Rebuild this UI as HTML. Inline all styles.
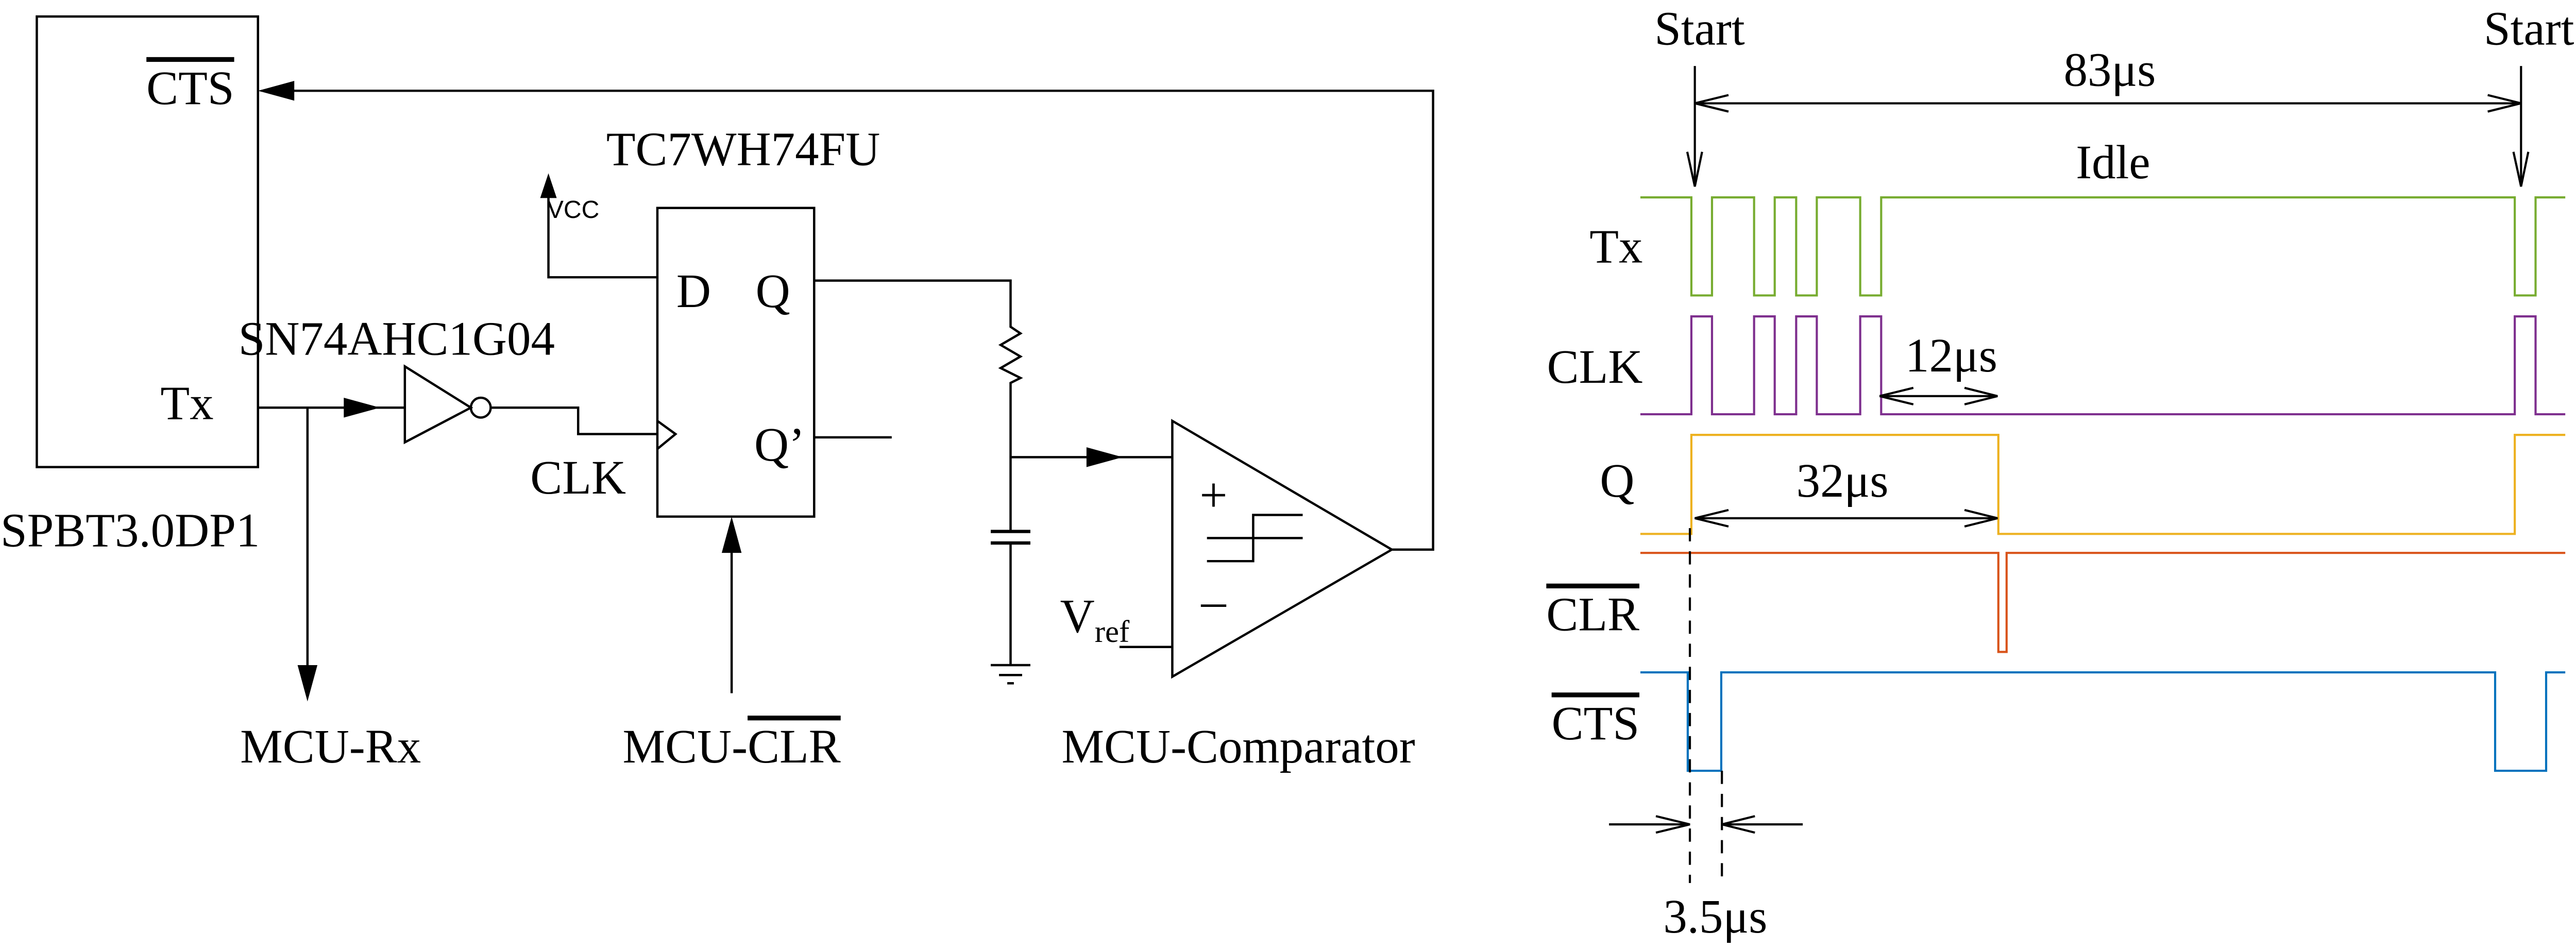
<!DOCTYPE html>
<html><head><meta charset="utf-8"><style>html,body{margin:0;padding:0;background:#fff}svg{display:block}.o{text-decoration:overline}</style></head>
<body>
<svg width="5025" height="1842" viewBox="0 0 1568 575" xmlns="http://www.w3.org/2000/svg" font-family="Liberation Serif, serif" font-size="29">
<rect width="1568" height="575" fill="#fff"/>
<g stroke="#000" stroke-width="1.4" fill="none">
<rect x="22" y="10" width="134" height="273"/>
<polyline points="843,333 868,333 868,55 170,55"/>
<line x1="156" y1="247" x2="245" y2="247"/>
<line x1="186" y1="247" x2="186" y2="405"/>
<polygon points="245,222 245,268 285,247"/>
<circle cx="291" cy="247" r="6"/>
<polyline points="297,247 350,247 350,263 398,263"/>
<rect x="398" y="126" width="95" height="187"/>
<polyline points="398,255 409,263 398,272"/>
<polyline points="398,168 332,168 332,118"/>
<polyline points="493,170 612,170 612,198 618,202 606,209 618,216 606,223 618,229 612,232 612,322"/>
<line x1="600" y1="322" x2="624" y2="322" stroke-width="2"/>
<line x1="600" y1="329" x2="624" y2="329" stroke-width="2"/>
<line x1="612" y1="329" x2="612" y2="403"/>
<line x1="600" y1="403" x2="624" y2="403"/>
<line x1="605" y1="409" x2="619" y2="409"/>
<line x1="610" y1="414" x2="614" y2="414"/>
<line x1="493" y1="265" x2="540" y2="265"/>
<line x1="612" y1="277" x2="710" y2="277"/>
<polygon points="710,255 710,410 843,333"/>
<polyline points="731,340 759,340 759,312 789,312"/>
<line x1="731" y1="326" x2="789" y2="326"/>
<line x1="678" y1="392" x2="710" y2="392"/>
<line x1="443" y1="420" x2="443" y2="330"/>
</g>
<g fill="#000">
<polygon points="156,55 178,49 178,61"/>
<polygon points="230,247 208,241 208,253"/>
<polygon points="186,425 180,403 192,403"/>
<polygon points="332,105 327,120 337,120"/>
<polygon points="680,277 658,271 658,283"/>
<polygon points="443,313 437,335 449,335"/>
</g>
<g fill="#000">
<text x="115" y="63" text-anchor="middle" class="o">CTS</text>
<text x="113" y="254" text-anchor="middle">Tx</text>
<text x="0" y="331">SPBT3.0DP1</text>
<text x="240" y="215" text-anchor="middle">SN74AHC1G04</text>
<text x="450" y="100" text-anchor="middle">TC7WH74FU</text>
<text x="347" y="132" font-family="Liberation Sans, sans-serif" font-size="15" text-anchor="middle">VCC</text>
<text x="420" y="186" text-anchor="middle">D</text>
<text x="468" y="186" text-anchor="middle">Q</text>
<text x="472" y="279" text-anchor="middle">Q’</text>
<text x="350" y="299" text-anchor="middle">CLK</text>
<text x="735" y="310" text-anchor="middle" font-size="30">+</text>
<text x="735" y="374" text-anchor="middle" font-size="30">–</text>
<text x="642" y="383">V<tspan font-size="19" dy="6">ref</tspan></text>
<text x="200" y="462" text-anchor="middle">MCU-Rx</text>
<text x="443" y="462" text-anchor="middle">MCU-<tspan class="o">CLR</tspan></text>
<text x="750" y="462" text-anchor="middle">MCU-Comparator</text>
</g>
<g fill="none" stroke-width="1.3">
<polyline stroke="#77ac30" points="993.6,119.6 1024.5,119.6 1024.5,179 1037,179 1037,119.6 1062.5,119.6 1062.5,179 1075,179 1075,119.6 1088,119.6 1088,179 1100.5,179 1100.5,119.6 1126.8,119.6 1126.8,179 1139.5,179 1139.5,119.6 1523.4,119.6 1523.4,179 1536,179 1536,119.6 1554,119.6"/>
<polyline stroke="#7e2f8e" points="993.6,251 1024.5,251 1024.5,191.7 1037,191.7 1037,251 1062.5,251 1062.5,191.7 1075,191.7 1075,251 1088,251 1088,191.7 1100.5,191.7 1100.5,251 1126.8,251 1126.8,191.7 1139.5,191.7 1139.5,251 1523.4,251 1523.4,191.7 1536,191.7 1536,251 1554,251"/>
<polyline stroke="#edb120" points="993.6,323.5 1024.5,323.5 1024.5,263.5 1210.5,263.5 1210.5,323.5 1523.4,323.5 1523.4,263.5 1554,263.5"/>
<polyline stroke="#d95319" points="993.6,335 1210.5,335 1210.5,395 1215.5,395 1215.5,335 1554,335"/>
<polyline stroke="#0072bd" points="993.6,407.4 1022.3,407.4 1022.3,467 1042.6,467 1042.6,407.4 1511.5,407.4 1511.5,467 1542.4,467 1542.4,407.4 1554,407.4"/>
</g>
<g stroke="#000" stroke-width="1.3" fill="none">
<line x1="1026.6" y1="40" x2="1026.6" y2="113"/>
<polyline points="1022,92 1026.6,113 1031,92"/>
<line x1="1527.2" y1="40" x2="1527.2" y2="113"/>
<polyline points="1522.6,92 1527.2,113 1531.6,92"/>
<line x1="1026.6" y1="62.6" x2="1527.2" y2="62.6"/>
<polyline points="1047,57.6 1026.6,62.6 1047,67.6"/>
<polyline points="1507,57.6 1527.2,62.6 1507,67.6"/>
<line x1="1138.6" y1="240" x2="1210" y2="240"/>
<polyline points="1159,235 1138.6,240 1159,245"/>
<polyline points="1190,235 1210,240 1190,245"/>
<line x1="1026.6" y1="314" x2="1210" y2="314"/>
<polyline points="1047,309 1026.6,314 1047,319"/>
<polyline points="1190,309 1210,314 1190,319"/>
<line x1="1023.6" y1="320" x2="1023.6" y2="535" stroke-dasharray="8,6"/>
<line x1="1043" y1="467" x2="1043" y2="535" stroke-dasharray="8,6"/>
<line x1="974.6" y1="499.5" x2="1023.6" y2="499.5"/>
<polyline points="1003,494.5 1023.6,499.5 1003,504.5"/>
<line x1="1092" y1="499.5" x2="1043" y2="499.5"/>
<polyline points="1063,494.5 1043,499.5 1063,504.5"/>
</g>
<g fill="#000">
<text x="1029.5" y="27" text-anchor="middle">Start</text>
<text x="1532" y="27" text-anchor="middle">Start</text>
<text x="1278" y="52" text-anchor="middle">83μs</text>
<text x="1280" y="108" text-anchor="middle">Idle</text>
<text x="995" y="159" text-anchor="end">Tx</text>
<text x="995" y="232" text-anchor="end">CLK</text>
<text x="990" y="301" text-anchor="end">Q</text>
<text x="993" y="382" text-anchor="end" class="o">CLR</text>
<text x="993" y="448" text-anchor="end" class="o">CTS</text>
<text x="1182" y="225" text-anchor="middle">12μs</text>
<text x="1116" y="301" text-anchor="middle">32μs</text>
<text x="1039" y="565" text-anchor="middle">3.5μs</text>
</g>
</svg>
</body></html>
